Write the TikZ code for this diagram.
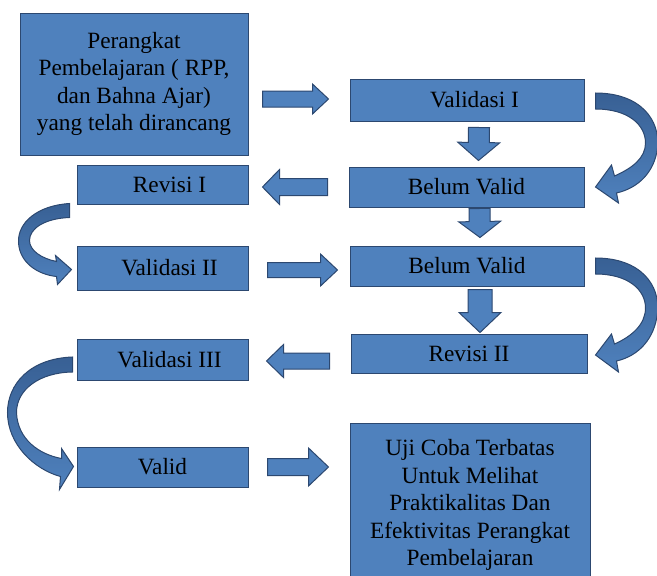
\documentclass[tikz,border=0pt]{standalone}
\usepackage{fontspec}
\setmainfont{Liberation Serif}
\usetikzlibrary{calc,positioning}

\definecolor{boxblue}{RGB}{79,129,189}
\definecolor{curvedark}{RGB}{56,96,148}
\definecolor{arrline}{RGB}{44,72,112}

\tikzset{
  box/.style={draw=arrline, fill=boxblue, line width=1pt, align=center, inner sep=0pt,
    font=\fontsize{23.3}{27.5}\selectfont},
  textright/.style={execute at begin node=\hspace*{#1pt}},
  blk/.style={draw=arrline, fill=boxblue, line width=1pt, line join=miter},
  curvearr/.style={draw=arrline, top color=curvedark, bottom color=boxblue, line width=1pt, line join=miter}
}

% block arrow: tail, tip, shaft half width, head half width, head length
\newcommand{\blockarrow}[5]{%
  \coordinate (s) at (#1);
  \coordinate (t) at (#2);
  \coordinate (h) at ($(t)!#5pt!(s)$);
  \draw[blk] ($(s)!#3pt!90:(t)$) -- ($(h)!#3pt!90:(t)$) -- ($(h)!#4pt!90:(t)$) -- (t)
    -- ($(h)!#4pt!-90:(t)$) -- ($(h)!#3pt!-90:(t)$) -- ($(s)!#3pt!-90:(t)$) -- cycle;}

\begin{document}
\begin{tikzpicture}[x=1pt,y=-1pt]
\useasboundingbox (0,0) rectangle (657,576);

\node[box, minimum width=228, minimum height=142] at (134,84) (perangkat)
  {Perangkat\\Pembelajaran ( RPP,\\dan Bahna Ajar)\\yang telah dirancang};
\node[box, textright=15, minimum width=234, minimum height=42] at (467,100) (val1) {Validasi I};
\node[box, minimum width=235, minimum height=40] at (466.5,187) (bv1) {Belum Valid};
\node[box, textright=14, minimum width=171, minimum height=39] at (162.5,184.5) (rev1) {Revisi I};
\node[box, textright=14, minimum width=171, minimum height=44] at (162.5,268) (val2) {Validasi II};
\node[box, minimum width=234, minimum height=40] at (467,266) (bv2) {Belum Valid};
\node[box, minimum width=236, minimum height=39] at (469,353.5) (rev2) {Revisi II};
\node[box, textright=14, minimum width=171, minimum height=41] at (162.5,359.5) (val3) {Validasi III};
\node[box, minimum width=171, minimum height=40] at (162.5,467) (valid) {Valid};
\node[box, minimum width=240, minimum height=164] at (470,505) (uji)
  {Uji Coba Terbatas\\Untuk Melihat\\Praktikalitas Dan\\Efektivitas Perangkat\\Pembelajaran};

% straight arrows
\blockarrow{$(val1.west)+(-87,-1)$}{$(val1.west)+(-21,-1)$}{8}{15}{16}
\blockarrow{$(val1.south)+(12,6)$}{$(bv1.north)+(12,-6)$}{10.5}{21}{18}
\blockarrow{$(bv1.west)+(-21,0)$}{$(bv1.west)+(-86,0)$}{8.5}{17.5}{17}
\blockarrow{$(bv1.south)+(13,1)$}{$(bv2.north)+(13,-8)$}{10.5}{21}{16}
\blockarrow{$(val2.east)+(19,2)$}{$(val2.east)+(89,2)$}{7.5}{16}{17}
\blockarrow{$(bv2.south)+(13,3)$}{$(bv2.south)+(13,46)$}{12}{21}{20}
\blockarrow{$(val3.east)+(81,1.5)$}{$(val3.east)+(18,1.5)$}{8}{16.5}{17}
\blockarrow{$(valid.east)+(19,0)$}{$(valid.east)+(80,0)$}{8.5}{19}{20}

% curved arrows
\begin{scope}[shift={($(val1.east)+(11,1)$)}]
\path[curvearr] (0,-8) .. controls (45,-8) and (65,19) .. (62,47)
  .. controls (59,71) and (43,87) .. (21,92) -- (23,102) -- (0,86) -- (16,64) -- (19,75)
  .. controls (37,67) and (50,57) .. (50,42) .. controls (50,24) and (33,8) .. (0,8) -- cycle;
\end{scope}
\begin{scope}[shift={($(bv2.east)+(11,0)$)}]
\path[curvearr] (0,-8) .. controls (45,-8) and (65,19) .. (62,47)
  .. controls (59,73) and (43,90) .. (21,95) -- (23,106) -- (0,89) -- (16,68) -- (19,78)
  .. controls (37,70) and (50,58) .. (50,42) .. controls (50,24) and (33,8) .. (0,8) -- cycle;
\end{scope}
\begin{scope}[shift={($(rev1.south west)+(-7,6)$)}]
\path[curvearr] (0,-7) .. controls (-32,-5) and (-52,12) .. (-51,32)
  .. controls (-50,52) and (-32,64) .. (-13,66) -- (-12,74) -- (2,59) -- (-14,45) -- (-13,51)
  .. controls (-28,48) and (-40,40) .. (-40,30) .. controls (-40,18) and (-25,8) .. (0,7) -- cycle;
\end{scope}
\begin{scope}[shift={($(val3.west)+(-4,5)$)}]
\path[curvearr] (0,-7.5) .. controls (-43,-6) and (-65,20) .. (-65,48)
  .. controls (-65,80) and (-38,105) .. (-12,112) -- (-13,125) -- (1,102) -- (-11,84) -- (-11,94)
  .. controls (-33,90) and (-55,75) .. (-56,48) .. controls (-56,25) and (-33,8) .. (0,7.5) -- cycle;
\end{scope}
\end{tikzpicture}
\end{document}
